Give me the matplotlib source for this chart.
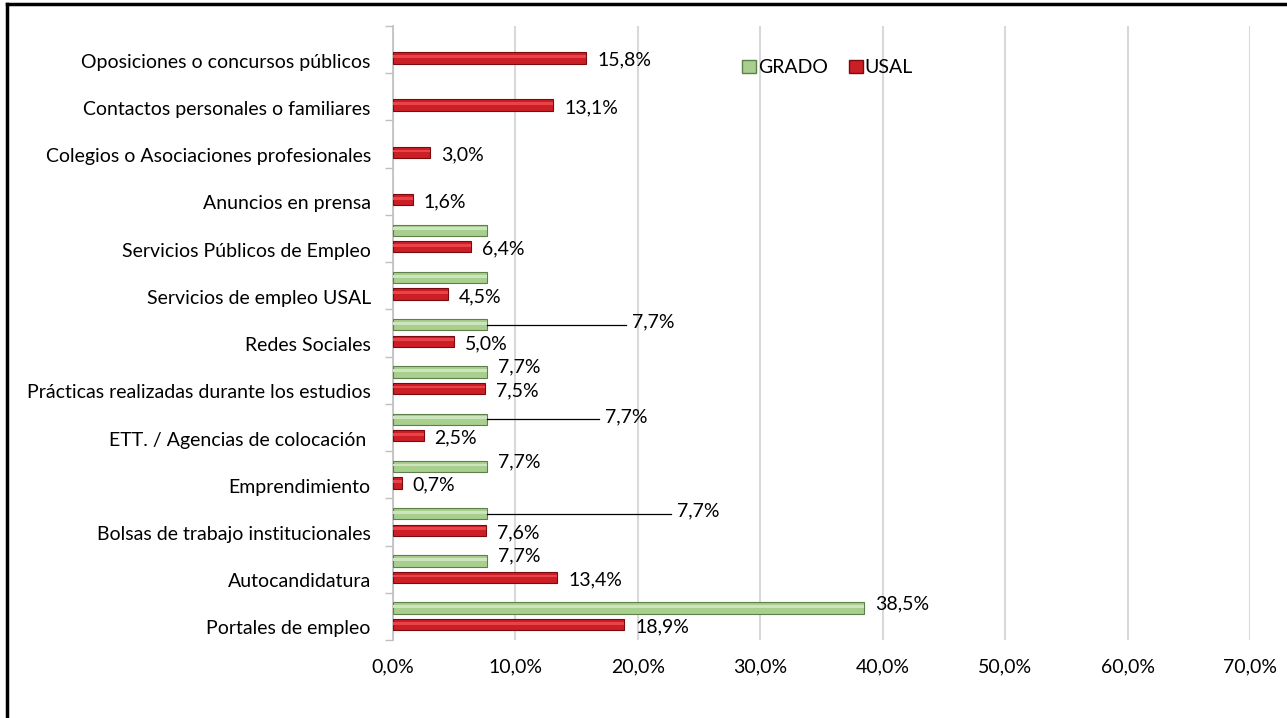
import matplotlib.pyplot as plt
from matplotlib.lines import Line2D
from matplotlib.patches import Patch
import numpy as np

plt.rcParams['font.family'] = ['Lato', 'DejaVu Sans']

# Datos (de arriba hacia abajo)
categorias = [
    "Oposiciones o concursos públicos",
    "Contactos personales o familiares",
    "Colegios o Asociaciones profesionales",
    "Anuncios en prensa",
    "Servicios Públicos de Empleo",
    "Servicios de empleo USAL",
    "Redes Sociales",
    "Prácticas realizadas durante los estudios",
    "ETT. / Agencias de colocación ",
    "Emprendimiento",
    "Bolsas de trabajo institucionales",
    "Autocandidatura",
    "Portales de empleo",
]
grado = [0, 0, 0, 0, 7.7, 7.7, 7.7, 7.7, 7.7, 7.7, 7.7, 7.7, 38.5]
usal = [15.8, 13.1, 3.0, 1.6, 6.4, 4.5, 5.0, 7.5, 2.5, 0.7, 7.6, 13.4, 18.9]
xticks = [0, 10, 20, 30, 40, 50, 60, 70]


def fmt(v):
    return f"{v:.1f}%".replace(".", ",")


fig = plt.figure(figsize=(12.87, 7.18), dpi=100)
ax = fig.add_axes([393 / 1287, 1 - 640 / 718, (1250 - 393) / 1287, (640 - 26) / 718])

y = np.arange(len(categorias))
off = 0.175
h = 0.24

verde, verde_borde = "#A9CF8E", "#5F7F4A"
rojo, rojo_borde = "#CC1E25", "#7A0A0E"

g = np.array(grado)
mask = g > 0
ax.barh(y[mask] - off, g[mask], height=h, color=verde, edgecolor=verde_borde, linewidth=0.8, zorder=3)
ax.barh(y + off, usal, height=h, color=rojo, edgecolor=rojo_borde, linewidth=0.8, zorder=3)
# brillo en el centro de las barras
ax.barh(y[mask] - off - 0.03, g[mask], height=h * 0.25, color="#CDE5BC", linewidth=0, zorder=4)
ax.barh(y + off - 0.03, usal, height=h * 0.25, color="#E8434A", linewidth=0, zorder=4)

fs = 14
for i, v in enumerate(usal):
    ax.text(v + 0.9, y[i] + off + 0.05, fmt(v), va="center", ha="left", fontsize=fs)

# etiquetas de GRADO (algunas con línea guía)
guias = {6: 19.5, 8: 17.3, 10: 23.2}
for i, v in enumerate(grado):
    if v == 0 or i in (4, 5):
        continue
    if i in guias:
        xl = guias[i]
        ax.plot([v, xl - 0.5], [y[i] - off, y[i] - off], color="black", lw=0.9, zorder=5)
        ax.text(xl, y[i] - off - 0.05, fmt(v), va="center", ha="left", fontsize=fs)
    else:
        ax.text(v + 0.9, y[i] - off - 0.1, fmt(v), va="center", ha="left", fontsize=fs)

ax.set_xlim(0, 70)
ax.set_ylim(len(categorias) - 0.5, -0.5)
ax.set_xticks(xticks)
ax.set_xticklabels([fmt(t) for t in xticks], fontsize=fs)
ax.tick_params(axis="x", length=0, pad=13)

ax.set_yticks(y + off + 0.06)
ax.set_yticklabels(categorias, fontsize=fs)
ax.tick_params(axis="y", which="major", length=0, pad=16)
ax.set_yticks(np.arange(len(categorias) + 1) - 0.5, minor=True)
ax.tick_params(axis="y", which="minor", length=6, color="#BFBFBF", width=1)

ax.grid(axis="x", color="#D9D9D9", linewidth=1.5, zorder=0)
ax.set_axisbelow(True)
for s in ["top", "right", "bottom"]:
    ax.spines[s].set_visible(False)
ax.spines["left"].set_color("#BFBFBF")
ax.spines["left"].set_linewidth(1.2)

handles = [Patch(facecolor=verde, edgecolor=verde_borde), Patch(facecolor=rojo, edgecolor=rojo_borde)]
ax.legend(handles, ["GRADO", "USAL"], ncol=2, frameon=False, fontsize=fs,
          loc="center left", bbox_to_anchor=(0.387, 0.932), handlelength=0.7,
          handleheight=0.7, handletextpad=0.1, columnspacing=1.1)

# marco exterior
fig.add_artist(Line2D([7 / 1287, 7 / 1287], [0, 1 - 4 / 718], color="black", lw=2.5))
fig.add_artist(Line2D([7 / 1287, 1], [1 - 4 / 718, 1 - 4 / 718], color="black", lw=2.5))

fig.savefig("out.png", dpi=100)
plt.close(fig)
